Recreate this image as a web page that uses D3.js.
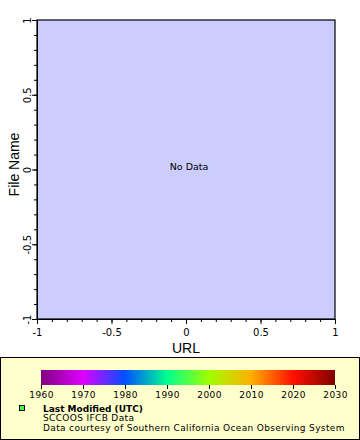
<!DOCTYPE html>
<html>
<head>
<meta charset="utf-8">
<script src="https://cdn.jsdelivr.net/npm/d3@7"></script>
<style>
  body { margin: 0; background: #fff; }
  svg { display: block; }
  text { font-family: "DejaVu Sans", sans-serif; fill: #000; }
</style>
</head>
<body>
<svg id="chart"></svg>
<script>
// axis domains and tick values
const xDomain = [-1, 1];
const yDomain = [-1, 1];
const majorTicks = [-1, -0.5, 0, 0.5, 1];
const minorTicks = d3.range(-10, 11).map(i => i / 10);

// colorbar: years and their colors
const cbYears = [1960, 1970, 1980, 1990, 2000, 2010, 2020, 2030];
const cbColors = ["#800080", "#e000ff", "#0050ff", "#00ff90", "#a0ff00", "#ffb000", "#ff1000", "#800000"];

const legendLines = ["Last Modified (UTC)", "SCCOOS IFCB Data", "Data courtesy of Southern California Ocean Observing System"];

const width = 360, height = 440;
const margin = { top: 20, right: 25, bottom: 121, left: 37 };
const fmt = d => String(d); // plain hyphen minus like the original

const svg = d3.select("#chart").attr("width", width).attr("height", height);

const x = d3.scaleLinear().domain(xDomain).range([margin.left, width - margin.right]);
const y = d3.scaleLinear().domain(yDomain).range([height - margin.bottom, margin.top]);

// plot background
svg.append("rect")
  .attr("x", x(-1)).attr("y", y(1))
  .attr("width", x(1) - x(-1)).attr("height", y(-1) - y(1))
  .attr("fill", "#ccccff");

svg.append("text")
  .attr("x", x(0) + 3).attr("y", y(0) - 3)
  .attr("text-anchor", "middle").attr("dy", "0.35em")
  .style("font-size", "9.5px")
  .text("No Data");

// x axis with minor ticks
const gx = svg.append("g").attr("transform", `translate(0,${y(-1)})`);
gx.call(d3.axisBottom(x).tickValues(minorTicks).tickSize(3).tickFormat(""))
  .call(g => g.select(".domain").remove());
gx.append("g").call(d3.axisBottom(x).tickValues(majorTicks).tickSize(5).tickSizeOuter(0).tickFormat(fmt))
  .call(g => g.selectAll("text").style("font-size", "10px").attr("dy", "0.85em").attr("font-family", "DejaVu Sans"));

// y axis with minor ticks
const gy = svg.append("g").attr("transform", `translate(${x(-1)},0)`);
gy.call(d3.axisLeft(y).tickValues(minorTicks).tickSize(3).tickFormat(""))
  .call(g => g.select(".domain").remove());
gy.append("g").call(d3.axisLeft(y).tickValues(majorTicks).tickSize(5).tickSizeOuter(0).tickFormat(fmt))
  .call(g => g.selectAll("text")
    .attr("font-family", "DejaVu Sans")
    .style("font-size", "10px")
    .attr("x", null).attr("dy", null)
    .attr("text-anchor", "middle")
    .attr("transform", "translate(-6,0) rotate(-90)"));

svg.selectAll(".tick line").attr("stroke", "#000");

// frame
svg.append("rect")
  .attr("x", x(-1)).attr("y", y(1))
  .attr("width", x(1) - x(-1)).attr("height", y(-1) - y(1))
  .attr("fill", "none").attr("stroke", "#000").attr("stroke-width", 1.2);

// axis titles
svg.append("text")
  .attr("x", x(0)).attr("y", 353)
  .attr("text-anchor", "middle")
  .style("font-family", "'Liberation Sans', Arial, sans-serif")
  .style("font-size", "14px")
  .text("URL");

svg.append("text")
  .attr("transform", `translate(19,${y(0) - 5}) rotate(-90)`)
  .attr("text-anchor", "middle")
  .style("font-family", "'Liberation Sans', Arial, sans-serif")
  .style("font-size", "14px")
  .text("File Name");

// legend box
svg.append("rect")
  .attr("x", 0.5).attr("y", 357.5)
  .attr("width", width - 1).attr("height", height - 358)
  .attr("fill", "#ffffcc").attr("stroke", "#000");

// colorbar
const cb = d3.scaleLinear().domain([cbYears[0], cbYears[cbYears.length - 1]]).range([41, 335]);
const grad = svg.append("defs").append("linearGradient").attr("id", "cbgrad");
grad.selectAll("stop").data(cbYears).join("stop")
  .attr("offset", d => (d - cbYears[0]) / (cbYears[cbYears.length - 1] - cbYears[0]))
  .attr("stop-color", (d, i) => cbColors[i]);

svg.append("rect")
  .attr("x", cb.range()[0]).attr("y", 370)
  .attr("width", cb.range()[1] - cb.range()[0]).attr("height", 15)
  .attr("fill", "url(#cbgrad)");

svg.append("g").attr("transform", "translate(0,385)")
  .call(d3.axisBottom(cb).tickValues(cbYears).tickSize(4).tickFormat(d3.format("d")))
  .call(g => g.select(".domain").remove())
  .call(g => g.selectAll("text").attr("font-family", "DejaVu Sans").style("font-size", "9px")
    .style("letter-spacing", "0.4px").attr("dy", "0.7em"));

// legend marker and lines
svg.append("rect")
  .attr("x", 19.5).attr("y", 405.5).attr("width", 5).attr("height", 5)
  .attr("fill", "#44ff44").attr("stroke", "#000");

svg.selectAll(".leg").data(legendLines).join("text")
  .attr("class", "leg")
  .attr("x", 43)
  .attr("y", (d, i) => 411.5 + i * 9.5)
  .style("font-size", "9px")
  .style("letter-spacing", (d, i) => i === 0 ? "0px" : "0.35px")
  .style("font-weight", (d, i) => i === 0 ? "bold" : "normal")
  .text(d => d);
</script>
</body>
</html>
